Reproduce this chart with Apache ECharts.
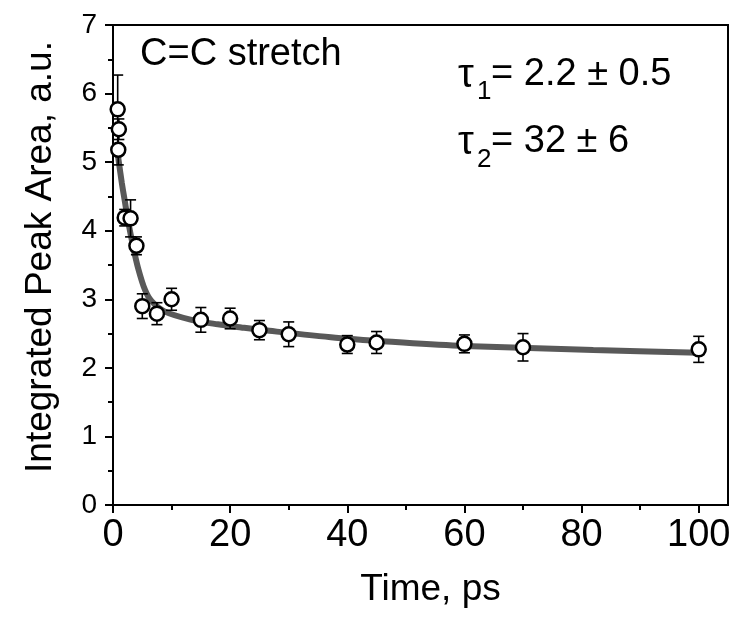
<!DOCTYPE html>
<html><head><meta charset="utf-8">
<script src="https://cdn.jsdelivr.net/npm/echarts@6/dist/echarts.min.js"></script>
<style>html,body{margin:0;padding:0;background:#fff}#c{width:740px;height:619px}</style>
</head><body><div id="c"></div>
<script>
// Measured data points (time in ps, integrated peak area in a.u., error bar half-width)
const timePs = [0.8, 0.9, 1.0, 2, 3, 4, 5, 7.5, 10, 15, 20, 25, 30, 40, 45, 60, 70, 100];
const area   = [5.77, 5.18, 5.48, 4.19, 4.18, 3.78, 2.90, 2.79, 3.00, 2.70, 2.72, 2.55, 2.49, 2.34, 2.37, 2.35, 2.30, 2.27];
const errors = [0.50, 0.22, 0.15, 0.12, 0.27, 0.13, 0.18, 0.16, 0.16, 0.18, 0.15, 0.14, 0.18, 0.13, 0.16, 0.13, 0.20, 0.19];

// Fit curve, points
const fitTime = [0.8, 1.0, 1.5, 2.0, 2.6, 3.46, 4.3, 5.45, 6.6, 8.86, 13.4, 17.9, 21.9, 26.7, 38, 49.5, 60, 82, 100];
const fitArea = [5.13, 5.00, 4.70, 4.44, 4.13, 3.76, 3.45, 3.14, 2.97, 2.82, 2.70, 2.635, 2.59, 2.54, 2.44, 2.37, 2.32, 2.26, 2.22];

// Axis ticks
const xMajorTicks = [0, 20, 40, 60, 80, 100];
const xMinorTicks = [10, 30, 50, 70, 90];
const xTitle = 'Time, ps';
const yTitle = 'Integrated Peak Area, a.u.';

const F = "'Liberation Sans', Arial, sans-serif";

const chart = echarts.init(document.getElementById('c'), null, {renderer: 'canvas'});

const option = {
  animation: false,
  backgroundColor: '#fff',
  grid: {left: 113, top: 25, right: 12, bottom: 114, show: true, borderColor: '#000', borderWidth: 2, backgroundColor: 'transparent'},
  xAxis: [{
    type: 'value', min: 0, max: 105,
    name: xTitle, nameLocation: 'middle', nameGap: 66,
    nameTextStyle: {fontFamily: F, fontSize: 37, color: '#000', padding: [0, 0, 0, 20]},
    axisLine: {show: true, onZero: false, lineStyle: {color: '#000', width: 2}},
    axisTick: {show: true, length: 8, lineStyle: {color: '#000', width: 2}, customValues: xMajorTicks},
    axisLabel: {fontFamily: F, fontSize: 38, color: '#000', margin: 12, customValues: xMajorTicks},
    splitLine: {show: false}
  }, {
    type: 'value', min: 0, max: 105, position: 'bottom',
    axisLine: {show: false},
    axisTick: {show: true, length: 5, lineStyle: {color: '#000', width: 2}, customValues: xMinorTicks},
    axisLabel: {show: false},
    splitLine: {show: false}
  }],
  yAxis: {
    type: 'value', min: 0, max: 7, interval: 1,
    name: yTitle, nameLocation: 'middle', nameGap: 54, nameRotate: 90,
    nameTextStyle: {fontFamily: F, fontSize: 37, color: '#000', padding: [0, 0, 0, 16]},
    axisLine: {show: true, onZero: false, lineStyle: {color: '#000', width: 2}},
    axisTick: {show: true, length: 8, lineStyle: {color: '#000', width: 2}},
    minorTick: {show: true, splitNumber: 2, length: 5, lineStyle: {color: '#000', width: 2}},
    axisLabel: {fontFamily: F, fontSize: 28, color: '#000', margin: 16},
    splitLine: {show: false}
  },
  series: [{
    type: 'line', name: 'fit', z: 2,
    data: fitTime.map((t, i) => [t, fitArea[i]]),
    smooth: 0.3, showSymbol: false, symbol: 'none',
    lineStyle: {color: '#595959', width: 6}
  }, {
    type: 'custom', name: 'err', z: 3,
    data: timePs.map((t, i) => [t, area[i], errors[i]]),
    renderItem: function (params, api) {
      const x = api.value(0), y = api.value(1), e = api.value(2);
      const top = api.coord([x, y + e]);
      const bot = api.coord([x, y - e]);
      const w = 5.5;
      const st = {stroke: '#000', lineWidth: 1.6};
      return {type: 'group', children: [
        {type: 'line', shape: {x1: top[0], y1: top[1], x2: bot[0], y2: bot[1]}, style: st},
        {type: 'line', shape: {x1: top[0] - w, y1: top[1], x2: top[0] + w, y2: top[1]}, style: st},
        {type: 'line', shape: {x1: bot[0] - w, y1: bot[1], x2: bot[0] + w, y2: bot[1]}, style: st}
      ]};
    }
  }, {
    type: 'scatter', name: 'data', z: 4,
    data: timePs.map((t, i) => [t, area[i]]),
    symbol: 'circle', symbolSize: 14,
    itemStyle: {color: '#fff', borderColor: '#000', borderWidth: 2.5, opacity: 1}
  }],
  graphic: [
    {type: 'text', x: 140, y: 55, style: {text: 'C=C stretch', font: "38px " + F, fill: '#000', align: 'left', verticalAlign: 'middle'}},
    {type: 'text', x: 458, y: 76, style: {text: 'τ', font: "40px " + F, fill: '#000', align: 'left', verticalAlign: 'middle'}},
    {type: 'text', x: 477, y: 92, style: {text: '1', font: "26px " + F, fill: '#000', align: 'left', verticalAlign: 'middle'}},
    {type: 'text', x: 491, y: 74.5, style: {text: '= 2.2 ± 0.5', font: "38px " + F, fill: '#000', align: 'left', verticalAlign: 'middle'}},
    {type: 'text', x: 458, y: 143, style: {text: 'τ', font: "40px " + F, fill: '#000', align: 'left', verticalAlign: 'middle'}},
    {type: 'text', x: 477, y: 160, style: {text: '2', font: "26px " + F, fill: '#000', align: 'left', verticalAlign: 'middle'}},
    {type: 'text', x: 491, y: 141.5, style: {text: '= 32 ± 6', font: "38px " + F, fill: '#000', align: 'left', verticalAlign: 'middle'}}
  ]
};
chart.setOption(option);
</script></body></html>
